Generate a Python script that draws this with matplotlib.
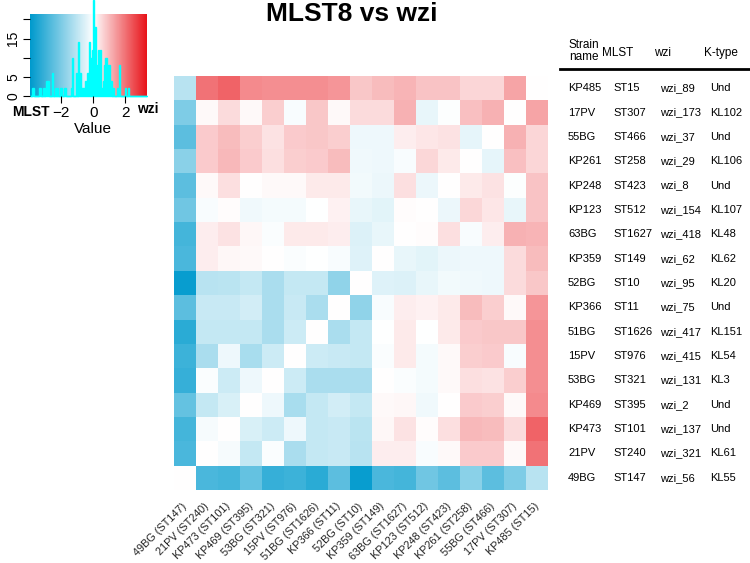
import numpy as np
import matplotlib
matplotlib.use('Agg')
import matplotlib.pyplot as plt
from matplotlib.colors import LinearSegmentedColormap, TwoSlopeNorm
from matplotlib.lines import Line2D

plt.rcParams['font.family'] = ['Liberation Sans', 'DejaVu Sans']

# strains in row order (top to bottom); columns are shown in reverse order
strains = ['KP485', '17PV', '55BG', 'KP261', 'KP248', 'KP123', '63BG', 'KP359', '52BG',
           'KP366', '51BG', '15PV', '53BG', 'KP469', 'KP473', '21PV', '49BG']
mlst = ['ST15', 'ST307', 'ST466', 'ST258', 'ST423', 'ST512', 'ST1627', 'ST149', 'ST10',
        'ST11', 'ST1626', 'ST976', 'ST321', 'ST395', 'ST101', 'ST240', 'ST147']
wzi = ['wzi_89', 'wzi_173', 'wzi_37', 'wzi_29', 'wzi_8', 'wzi_154', 'wzi_418', 'wzi_62', 'wzi_95',
       'wzi_75', 'wzi_417', 'wzi_415', 'wzi_131', 'wzi_2', 'wzi_137', 'wzi_321', 'wzi_56']
ktype = ['Und', 'KL102', 'Und', 'KL106', 'Und', 'KL107', 'KL48', 'KL62', 'KL20',
         'Und', 'KL151', 'KL54', 'KL3', 'Und', 'Und', 'KL61', 'KL55']

# pairwise values, strain order on both axes (estimated from the colours)
dist = [
    [0, 1.3, 0.6, 0.6, 0.85, 0.85, 1.05, 0.95, 0.8, 1.5, 1.6, 1.6, 1.6, 1.65, 2.2, 2.0, -1.1],
    [1.3, 0, 1.1, 0.9, -0.05, -0.35, 1.1, 0.5, 0.5, 0.1, 0.8, -0.1, 0.7, 0.08, 0.5, 0.1, -2.0],
    [0.6, 1.1, 0, -0.4, 0.4, 0.35, 0.25, -0.25, -0.25, 0.7, 0.8, 0.75, 0.4, 0.7, 0.95, 0.75, -2.5],
    [0.6, 0.9, -0.4, 0, 0.3, 0.55, -0.12, -0.25, -0.22, 0.95, 0.75, 0.7, 0.45, 0.75, 1.0, 0.75, -1.8],
    [0.85, -0.05, 0.4, 0.3, 0, -0.28, 0.45, -0.28, -0.2, 0.3, 0.3, 0.1, 0.1, 0.0, 0.45, 0.1, -2.5],
    [0.85, -0.35, 0.35, 0.55, -0.28, 0, 0.05, -0.45, -0.35, 0.2, -0.02, -0.18, -0.18, -0.22, 0.05, -0.12, -2.2],
    [1.05, 1.1, 0.25, -0.12, 0.45, 0.05, 0, -0.35, -0.55, 0.25, 0.3, 0.3, -0.07, 0.12, 0.4, 0.25, -2.9],
    [0.95, 0.5, -0.25, -0.25, -0.28, -0.45, -0.35, 0, -0.5, -0.1, -0.02, -0.08, 0.0, 0.1, 0.12, 0.25, -2.8],
    [0.8, 0.5, -0.25, -0.22, -0.2, -0.35, -0.55, -0.5, 0, -1.7, -0.9, -0.9, -1.3, -0.9, -1.05, -1.1, -3.8],
    [1.5, 0.1, 0.7, 0.95, 0.3, 0.2, 0.25, -0.1, -1.7, 0, -1.3, -0.85, -1.3, -0.7, -0.85, -0.85, -2.5],
    [1.6, 0.8, 0.8, 0.75, 0.3, -0.02, 0.3, -0.02, -0.9, -1.3, 0, -0.8, -1.3, -0.9, -0.9, -0.9, -3.3],
    [1.6, -0.1, 0.75, 0.7, 0.1, -0.18, 0.3, -0.08, -0.9, -0.85, -0.8, 0, -0.8, -1.35, -0.25, -1.3, -3.0],
    [1.6, 0.7, 0.4, 0.45, 0.1, -0.18, -0.07, 0.0, -1.3, -1.3, -1.3, -0.8, 0, -0.25, -0.8, -0.07, -3.1],
    [1.65, 0.08, 0.7, 0.75, 0.0, -0.22, 0.12, 0.1, -0.9, -0.7, -0.9, -1.35, -0.25, 0, -0.6, -0.9, -2.4],
    [2.2, 0.5, 0.95, 1.0, 0.45, 0.05, 0.4, 0.12, -1.05, -0.85, -0.9, -0.25, -0.8, -0.6, 0, -0.15, -2.9],
    [2.0, 0.1, 0.75, 0.75, 0.1, -0.12, 0.25, 0.25, -1.1, -0.85, -0.9, -1.3, -0.07, -0.9, -0.15, 0, -2.8],
    [-1.1, -2.0, -2.5, -1.8, -2.5, -2.2, -2.9, -2.8, -3.8, -2.5, -3.3, -3.0, -3.1, -2.4, -2.9, -2.8, 0],
]

key_min, key_max = -3.95, 3.35

W, H = 750, 563
fig = plt.figure(figsize=(W / 100, H / 100), dpi=100)


def box(x0, y0, x1, y1):
    # pixel box measured from the top-left corner -> figure fraction
    return [x0 / W, 1 - y1 / H, (x1 - x0) / W, (y1 - y0) / H]


def fx(x):
    return x / W


def fy(y):
    return 1 - y / H


cmap = LinearSegmentedColormap.from_list('mlst_wzi', ['#009ACD', '#FFFFFF', '#E8141A'])
norm = TwoSlopeNorm(vmin=key_min, vcenter=0, vmax=key_max)

m = np.array(dist)
n = len(strains)
shown = m[:, ::-1]

# main heatmap
ax = fig.add_axes(box(174, 76, 548, 490))
ax.pcolormesh(np.arange(n + 1), np.arange(n + 1), shown, cmap=cmap, norm=norm)
ax.set_xlim(0, n)
ax.set_ylim(n, 0)
ax.axis('off')

col_labels = [f'{s} ({t})' for s, t in zip(strains, mlst)][::-1]
for c, lab in enumerate(col_labels):
    ax.text(c + 0.5, n + 0.6, lab, rotation=45, rotation_mode='anchor',
            ha='right', va='center', fontsize=7.8, color='#222222')

# table of strain info on the right
row_h = (490 - 76) / n
fig.text(fx(584), fy(51), 'Strain\nname', ha='center', va='center', fontsize=8.5, linespacing=0.95)
fig.text(fx(618), fy(53), 'MLST', ha='center', va='center', fontsize=8.5)
fig.text(fx(663), fy(53), 'wzi', ha='center', va='center', fontsize=8.5)
fig.text(fx(721), fy(53), 'K-type', ha='center', va='center', fontsize=8.5)
fig.add_artist(Line2D([fx(560), fx(750)], [fy(69), fy(69)], color='black', lw=2))
for r in range(n):
    y = fy(76 + (r + 0.5) * row_h)
    fig.text(fx(568), y, strains[r], ha='left', va='center', fontsize=8)
    fig.text(fx(613), y, mlst[r], ha='left', va='center', fontsize=8)
    fig.text(fx(660), y, wzi[r], ha='left', va='center', fontsize=8)
    fig.text(fx(710), y, ktype[r], ha='left', va='center', fontsize=8)

fig.text(fx(352), fy(14), 'MLST8 vs wzi', ha='center', va='center', fontsize=19, weight='bold')

# colour key with histogram
kx = fig.add_axes(box(30, 14, 147, 96))
ytop = 21.4
grad = np.linspace(key_min, key_max, 300)
kx.imshow(grad[None, :], extent=[key_min, key_max, 0, ytop], aspect='auto',
          cmap=cmap, norm=norm, interpolation='bilinear')
kx.hist(m.ravel(), bins=np.linspace(key_min, key_max, 101), histtype='stepfilled',
        color='cyan', edgecolor='cyan', lw=1, clip_on=False)
kx.set_xlim(key_min, key_max)
kx.set_ylim(0, ytop)
for s in kx.spines.values():
    s.set_visible(False)
kx.set_xticks([-2, 0, 2])
kx.set_xticklabels(['\u22122', '0', '2'], fontsize=11)
kx.set_yticks([0, 5, 10, 15, 20])
kx.set_yticklabels(['0', '5', '', '15', ''], fontsize=10, rotation=90, va='center')
kx.tick_params(length=5, width=0.8, pad=2)
fig.text(fx(93), fy(129), 'Value', ha='center', va='center', fontsize=11)
fig.text(fx(31), fy(112), 'MLST', ha='center', va='center', fontsize=10, weight='bold')
fig.text(fx(148), fy(109), 'wzi', ha='center', va='center', fontsize=10, weight='bold')

fig.savefig('out.png', dpi=100)
